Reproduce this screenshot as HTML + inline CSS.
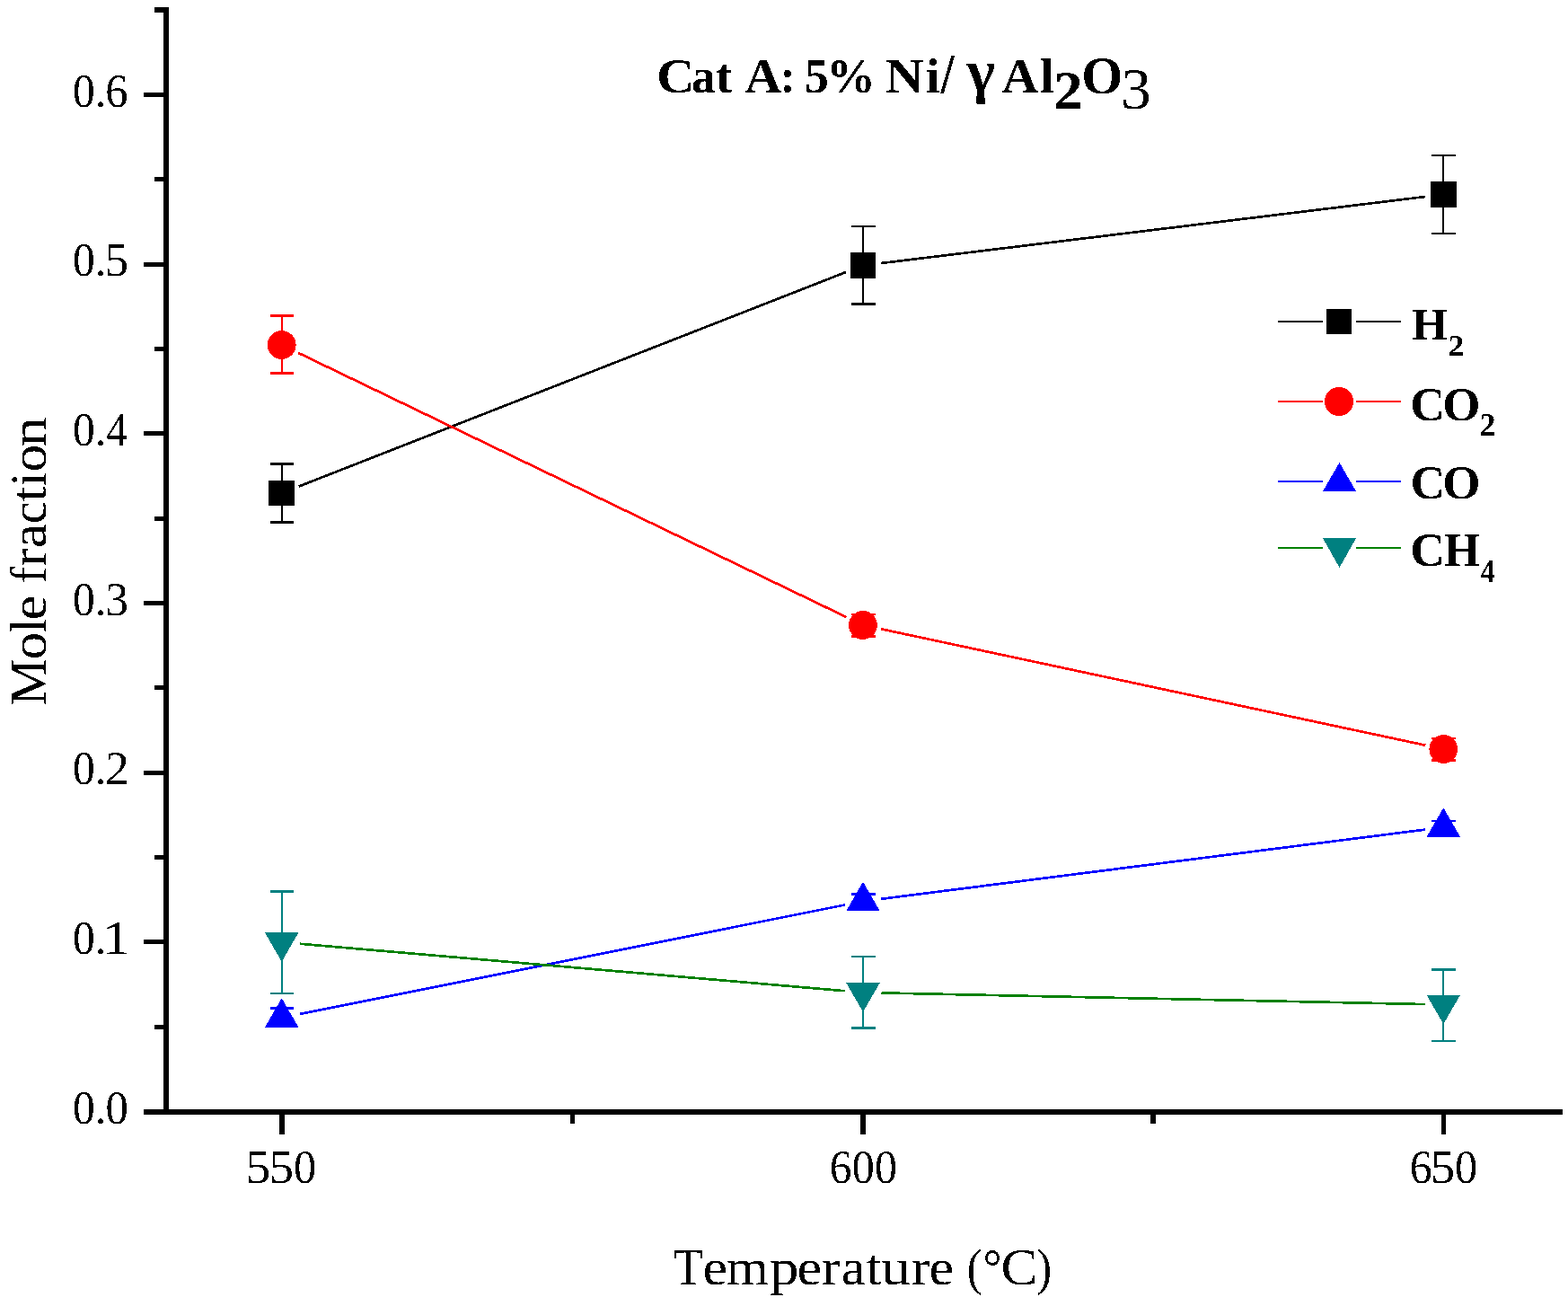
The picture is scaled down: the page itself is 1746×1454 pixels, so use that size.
<!DOCTYPE html><html><head><meta charset="utf-8"><title>Cat A: 5% Ni/ γ Al2O3 — Mole fraction vs Temperature</title>
<style>html,body{margin:0;padding:0;background:#fff;width:1746px;height:1454px;overflow:hidden}svg{display:block}text{font-family:'Liberation Serif', 'Times New Roman', serif;font-kerning:none;font-variant-ligatures:none}</style></head><body>
<svg width="1746" height="1454" viewBox="0 0 1746 1454" shape-rendering="crispEdges">
<defs><filter id="bin" x="-0.1" y="-0.1" width="1.2" height="1.2" color-interpolation-filters="sRGB"><feComponentTransfer><feFuncA type="discrete" tableValues="0 1"/></feComponentTransfer></filter></defs>
<rect width="1746" height="1454" fill="#fff"/>
<g fill="#000"><rect x="182" y="8" width="6" height="1233"/><rect x="160" y="1235" width="1580" height="6"/><rect x="160" y="1235.03" width="22" height="5"/><rect x="160" y="1046.36" width="22" height="5"/><rect x="160" y="857.70" width="22" height="5"/><rect x="160" y="669.03" width="22" height="5"/><rect x="160" y="480.36" width="22" height="5"/><rect x="160" y="291.69" width="22" height="5"/><rect x="160" y="103.03" width="22" height="5"/><rect x="172" y="1140.70" width="10" height="5"/><rect x="172" y="952.03" width="10" height="5"/><rect x="172" y="763.36" width="10" height="5"/><rect x="172" y="574.70" width="10" height="5"/><rect x="172" y="386.03" width="10" height="5"/><rect x="172" y="197.36" width="10" height="5"/><rect x="172" y="8" width="10" height="6"/><rect x="311.25" y="1241" width="5.5" height="22"/><rect x="958.00" y="1241" width="5.5" height="22"/><rect x="1604.75" y="1241" width="5.5" height="22"/><rect x="634.62" y="1241" width="5.5" height="10"/><rect x="1281.38" y="1241" width="5.5" height="10"/></g>
<text y="1250.63" font-size="52.00" fill="#000" filter="url(#bin)"><tspan x="81.11" textLength="24.77" lengthAdjust="spacingAndGlyphs">0</tspan><tspan x="105.65" textLength="12.69" lengthAdjust="spacingAndGlyphs">.</tspan><tspan x="117.57" textLength="25.36" lengthAdjust="spacingAndGlyphs">0</tspan></text>
<text y="1061.96" font-size="52.00" fill="#000" filter="url(#bin)"><tspan x="81.11" textLength="24.77" lengthAdjust="spacingAndGlyphs">0</tspan><tspan x="105.65" textLength="12.69" lengthAdjust="spacingAndGlyphs">.</tspan><tspan x="114.13" textLength="30.54" lengthAdjust="spacingAndGlyphs">1</tspan></text>
<text y="873.30" font-size="52.00" fill="#000" filter="url(#bin)"><tspan x="81.11" textLength="24.77" lengthAdjust="spacingAndGlyphs">0</tspan><tspan x="105.65" textLength="12.69" lengthAdjust="spacingAndGlyphs">.</tspan><tspan x="117.14" textLength="26.82" lengthAdjust="spacingAndGlyphs">2</tspan></text>
<text y="684.63" font-size="52.00" fill="#000" filter="url(#bin)"><tspan x="81.11" textLength="24.77" lengthAdjust="spacingAndGlyphs">0</tspan><tspan x="105.65" textLength="12.69" lengthAdjust="spacingAndGlyphs">.</tspan><tspan x="117.01" textLength="26.02" lengthAdjust="spacingAndGlyphs">3</tspan></text>
<text y="495.96" font-size="52.00" fill="#000" filter="url(#bin)"><tspan x="81.11" textLength="24.77" lengthAdjust="spacingAndGlyphs">0</tspan><tspan x="105.65" textLength="12.69" lengthAdjust="spacingAndGlyphs">.</tspan><tspan x="118.60" textLength="23.13" lengthAdjust="spacingAndGlyphs">4</tspan></text>
<text y="307.29" font-size="52.00" fill="#000" filter="url(#bin)"><tspan x="81.11" textLength="24.77" lengthAdjust="spacingAndGlyphs">0</tspan><tspan x="105.65" textLength="12.69" lengthAdjust="spacingAndGlyphs">.</tspan><tspan x="116.40" textLength="26.69" lengthAdjust="spacingAndGlyphs">5</tspan></text>
<text y="118.63" font-size="52.00" fill="#000" filter="url(#bin)"><tspan x="81.11" textLength="24.77" lengthAdjust="spacingAndGlyphs">0</tspan><tspan x="105.65" textLength="12.69" lengthAdjust="spacingAndGlyphs">.</tspan><tspan x="117.34" textLength="25.16" lengthAdjust="spacingAndGlyphs">6</tspan></text>
<text y="1316.90" font-size="52.00" fill="#000" filter="url(#bin)"><tspan x="273.47" textLength="27.80" lengthAdjust="spacingAndGlyphs">5</tspan><tspan x="299.60" textLength="27.55" lengthAdjust="spacingAndGlyphs">5</tspan><tspan x="326.89" textLength="25.13" lengthAdjust="spacingAndGlyphs">0</tspan></text>
<text y="1316.90" font-size="52.00" fill="#000" filter="url(#bin)"><tspan x="923.77" textLength="24.81" lengthAdjust="spacingAndGlyphs">6</tspan><tspan x="948.79" textLength="25.01" lengthAdjust="spacingAndGlyphs">0</tspan><tspan x="973.99" textLength="25.01" lengthAdjust="spacingAndGlyphs">0</tspan></text>
<text y="1316.90" font-size="52.00" fill="#000" filter="url(#bin)"><tspan x="1569.76" textLength="24.93" lengthAdjust="spacingAndGlyphs">6</tspan><tspan x="1592.71" textLength="27.43" lengthAdjust="spacingAndGlyphs">5</tspan><tspan x="1619.89" textLength="25.13" lengthAdjust="spacingAndGlyphs">0</tspan></text>
<g transform="translate(51,784.2) rotate(-90)">
<text y="0.00" font-size="56.50" fill="#000" filter="url(#bin)"><tspan x="-1.50" textLength="52.43" lengthAdjust="spacingAndGlyphs">M</tspan><tspan x="49.86" textLength="30.67" lengthAdjust="spacingAndGlyphs">o</tspan><tspan x="80.11" textLength="15.19" lengthAdjust="spacingAndGlyphs">l</tspan><tspan x="93.77" textLength="27.58" lengthAdjust="spacingAndGlyphs">e</tspan> <tspan x="134.47" textLength="18.73" lengthAdjust="spacingAndGlyphs">f</tspan><tspan x="153.48" textLength="20.25" lengthAdjust="spacingAndGlyphs">r</tspan><tspan x="174.06" textLength="26.97" lengthAdjust="spacingAndGlyphs">a</tspan><tspan x="201.07" textLength="24.86" lengthAdjust="spacingAndGlyphs">c</tspan><tspan x="225.60" textLength="16.95" lengthAdjust="spacingAndGlyphs">t</tspan><tspan x="243.05" textLength="15.19" lengthAdjust="spacingAndGlyphs">i</tspan><tspan x="258.86" textLength="30.67" lengthAdjust="spacingAndGlyphs">o</tspan><tspan x="286.68" textLength="33.01" lengthAdjust="spacingAndGlyphs">n</tspan></text>
</g>
<text y="1430.00" font-size="56.50" fill="#000" filter="url(#bin)"><tspan x="750.03" textLength="32.87" lengthAdjust="spacingAndGlyphs">T</tspan><tspan x="782.57" textLength="27.58" lengthAdjust="spacingAndGlyphs">e</tspan><tspan x="808.73" textLength="47.22" lengthAdjust="spacingAndGlyphs">m</tspan><tspan x="856.95" textLength="32.60" lengthAdjust="spacingAndGlyphs">p</tspan><tspan x="887.57" textLength="27.58" lengthAdjust="spacingAndGlyphs">e</tspan><tspan x="914.75" textLength="20.80" lengthAdjust="spacingAndGlyphs">r</tspan><tspan x="936.86" textLength="26.97" lengthAdjust="spacingAndGlyphs">a</tspan><tspan x="964.40" textLength="16.95" lengthAdjust="spacingAndGlyphs">t</tspan><tspan x="981.13" textLength="33.00" lengthAdjust="spacingAndGlyphs">u</tspan><tspan x="1014.75" textLength="20.80" lengthAdjust="spacingAndGlyphs">r</tspan><tspan x="1034.57" textLength="27.58" lengthAdjust="spacingAndGlyphs">e</tspan> <tspan x="1076.78" textLength="16.86" lengthAdjust="spacingAndGlyphs">(</tspan><tspan x="1094.48" textLength="21.10" lengthAdjust="spacingAndGlyphs">°</tspan><tspan x="1114.49" textLength="40.90" lengthAdjust="spacingAndGlyphs">C</tspan><tspan x="1154.37" textLength="16.86" lengthAdjust="spacingAndGlyphs">)</tspan></text>
<text fill="#000" filter="url(#bin)"><tspan x="731.02" y="102.60" font-size="55.70" font-weight="bold" textLength="42.57" lengthAdjust="spacingAndGlyphs">C</tspan><tspan x="770.08" y="102.60" font-size="55.70" font-weight="bold" textLength="26.73" lengthAdjust="spacingAndGlyphs">a</tspan><tspan x="797.02" y="102.60" font-size="55.70" font-weight="bold" textLength="18.22" lengthAdjust="spacingAndGlyphs">t</tspan> <tspan x="829.24" y="102.60" font-size="55.70" font-weight="bold" textLength="41.07" lengthAdjust="spacingAndGlyphs">A</tspan><tspan x="868.74" y="102.60" font-size="55.70" font-weight="bold" textLength="16.48" lengthAdjust="spacingAndGlyphs">:</tspan> <tspan x="895.83" y="102.60" font-size="55.70" font-weight="bold" textLength="27.05" lengthAdjust="spacingAndGlyphs">5</tspan><tspan x="920.29" y="102.60" font-size="55.70" font-weight="bold" textLength="54.75" lengthAdjust="spacingAndGlyphs">%</tspan> <tspan x="985.77" y="102.60" font-size="55.70" font-weight="bold" textLength="42.92" lengthAdjust="spacingAndGlyphs">N</tspan><tspan x="1030.73" y="102.60" font-size="55.70" font-weight="bold" textLength="16.01" lengthAdjust="spacingAndGlyphs">i</tspan><tspan x="1047.43" y="104.19" font-size="62.53" font-weight="bold" textLength="15.02" lengthAdjust="spacingAndGlyphs">/</tspan> <tspan x="1076.07" y="102.35" font-size="67.42" font-weight="bold" textLength="32.07" lengthAdjust="spacingAndGlyphs">γ</tspan> <tspan x="1115.45" y="102.60" font-size="55.70" font-weight="bold" textLength="40.66" lengthAdjust="spacingAndGlyphs">A</tspan><tspan x="1157.67" y="102.60" font-size="55.70" font-weight="bold" textLength="16.01" lengthAdjust="spacingAndGlyphs">l</tspan><tspan x="1173.06" y="120.80" font-size="62.23" font-weight="bold" textLength="32.65" lengthAdjust="spacingAndGlyphs">2</tspan><tspan x="1204.21" y="103.53" font-size="58.49" font-weight="bold" textLength="46.09" lengthAdjust="spacingAndGlyphs">O</tspan><tspan x="1247.96" y="121.16" font-size="65.64" font-weight="normal" textLength="33.89" lengthAdjust="spacingAndGlyphs">3</tspan></text>
<g stroke="#000000" stroke-width="2.7" stroke-linecap="butt"><line x1="332.79" y1="541.52" x2="941.91" y2="302.98"/><line x1="981.35" y1="293.01" x2="1586.95" y2="218.99"/></g>
<g fill="#000000"><rect x="312.70" y="516.50" width="2" height="65.00"/><rect x="300.70" y="515.10" width="26.5" height="2.8"/><rect x="300.70" y="580.10" width="26.5" height="2.8"/><rect x="960.00" y="252.00" width="2" height="86.50"/><rect x="948.00" y="250.60" width="26.5" height="2.8"/><rect x="948.00" y="337.10" width="26.5" height="2.8"/><rect x="1606.30" y="173.00" width="2" height="87.00"/><rect x="1594.30" y="171.60" width="26.5" height="2.8"/><rect x="1594.30" y="258.60" width="26.5" height="2.8"/></g>
<rect x="299.45" y="534.75" width="28.50" height="28.50" fill="#000000"/><rect x="946.75" y="281.25" width="28.50" height="28.50" fill="#000000"/><rect x="1593.05" y="202.25" width="28.50" height="28.50" fill="#000000"/>
<g stroke="#ff0000" stroke-width="2.7" stroke-linecap="butt"><line x1="332.17" y1="392.90" x2="942.53" y2="687.10"/><line x1="981.05" y1="700.28" x2="1587.25" y2="829.72"/></g>
<g fill="#ff0000"><rect x="312.70" y="351.50" width="2" height="64.00"/><rect x="300.70" y="350.10" width="26.5" height="2.8"/><rect x="300.70" y="414.10" width="26.5" height="2.8"/><rect x="960.00" y="684.00" width="2" height="24.50"/><rect x="948.00" y="682.60" width="26.5" height="2.8"/><rect x="948.00" y="707.10" width="26.5" height="2.8"/><rect x="1606.30" y="822.00" width="2" height="24.30"/><rect x="1594.30" y="820.60" width="26.5" height="2.8"/><rect x="1594.30" y="844.90" width="26.5" height="2.8"/></g>
<circle cx="313.70" cy="384.00" r="15.9" fill="#ff0000"/><circle cx="961.00" cy="696.00" r="15.9" fill="#ff0000"/><circle cx="1607.30" cy="834.00" r="15.9" fill="#ff0000"/>
<g stroke="#0000ff" stroke-width="2.7" stroke-linecap="butt"><line x1="333.80" y1="1128.98" x2="940.90" y2="1007.42"/><line x1="981.34" y1="1000.81" x2="1586.96" y2="923.59"/></g>
<g fill="#0000ff"><rect x="312.70" y="1122.50" width="2" height="10.50"/><rect x="300.70" y="1121.10" width="26.5" height="2.8"/><rect x="960.00" y="995.50" width="2" height="7.90"/><rect x="948.00" y="994.10" width="26.5" height="2.8"/><rect x="1606.30" y="914.00" width="2" height="7.00"/><rect x="1594.30" y="912.60" width="26.5" height="2.8"/></g>
<polygon points="313.70,1111.30 332.49,1143.85 294.91,1143.85" fill="#0000ff"/><polygon points="961.00,981.70 979.79,1014.25 942.21,1014.25" fill="#0000ff"/><polygon points="1607.30,899.30 1626.09,931.85 1588.51,931.85" fill="#0000ff"/>
<g stroke="#008000" stroke-width="2.7" stroke-linecap="butt"><line x1="334.12" y1="1050.77" x2="940.58" y2="1103.23"/><line x1="981.50" y1="1105.43" x2="1586.80" y2="1118.07"/></g>
<g fill="#008080"><rect x="312.70" y="992.50" width="2" height="113.50"/><rect x="300.70" y="991.10" width="26.5" height="2.8"/><rect x="300.70" y="1104.60" width="26.5" height="2.8"/><rect x="960.00" y="1065.00" width="2" height="79.50"/><rect x="948.00" y="1063.60" width="26.5" height="2.8"/><rect x="948.00" y="1143.10" width="26.5" height="2.8"/><rect x="1606.30" y="1079.50" width="2" height="79.50"/><rect x="1594.30" y="1078.10" width="26.5" height="2.8"/><rect x="1594.30" y="1157.60" width="26.5" height="2.8"/></g>
<polygon points="313.70,1070.70 332.49,1038.15 294.91,1038.15" fill="#008080"/><polygon points="961.00,1126.70 979.79,1094.15 942.21,1094.15" fill="#008080"/><polygon points="1607.30,1140.20 1626.09,1107.65 1588.51,1107.65" fill="#008080"/>
<g fill="#000000"><rect x="1423" y="357.00" width="50" height="2"/><rect x="1510" y="357.00" width="50" height="2"/></g>
<rect x="1477" y="344" width="28" height="28" fill="#000000"/>
<g fill="#ff0000"><rect x="1423" y="446.00" width="50" height="2"/><rect x="1510" y="446.00" width="50" height="2"/></g>
<circle cx="1491" cy="447" r="16" fill="#ff0000"/>
<g fill="#0000ff"><rect x="1423" y="535.00" width="50" height="2"/><rect x="1510" y="535.00" width="50" height="2"/></g>
<polygon points="1491.5,515 1510.1,547 1472.9,547" fill="#0000ff"/>
<g fill="#008000"><rect x="1423" y="609.00" width="50" height="2"/><rect x="1510" y="609.00" width="50" height="2"/></g>
<polygon points="1491.5,632 1510.1,599 1472.9,599" fill="#008080"/>
<text fill="#000" filter="url(#bin)"><tspan x="1572.13" y="377.90" font-size="51.62" font-weight="bold" textLength="39.62" lengthAdjust="spacingAndGlyphs">H</tspan><tspan x="1612.36" y="396.10" font-size="34.59" font-weight="bold" textLength="18.31" lengthAdjust="spacingAndGlyphs">2</tspan></text>
<text fill="#000" filter="url(#bin)"><tspan x="1570.38" y="467.68" font-size="53.58" font-weight="bold" textLength="38.82" lengthAdjust="spacingAndGlyphs">C</tspan><tspan x="1606.35" y="467.68" font-size="53.58" font-weight="bold" textLength="42.20" lengthAdjust="spacingAndGlyphs">O</tspan><tspan x="1647.48" y="485.20" font-size="35.19" font-weight="bold" textLength="18.07" lengthAdjust="spacingAndGlyphs">2</tspan></text>
<text fill="#000" filter="url(#bin)"><tspan x="1570.38" y="555.38" font-size="53.43" font-weight="bold" textLength="38.70" lengthAdjust="spacingAndGlyphs">C</tspan><tspan x="1606.34" y="555.38" font-size="53.43" font-weight="bold" textLength="42.31" lengthAdjust="spacingAndGlyphs">O</tspan></text>
<text fill="#000" filter="url(#bin)"><tspan x="1570.38" y="630.48" font-size="53.28" font-weight="bold" textLength="38.70" lengthAdjust="spacingAndGlyphs">C</tspan><tspan x="1608.13" y="630.48" font-size="53.28" font-weight="bold" textLength="39.72" lengthAdjust="spacingAndGlyphs">H</tspan><tspan x="1648.56" y="648.00" font-size="34.94" font-weight="bold" textLength="16.03" lengthAdjust="spacingAndGlyphs">4</tspan></text>
</svg></body></html>
